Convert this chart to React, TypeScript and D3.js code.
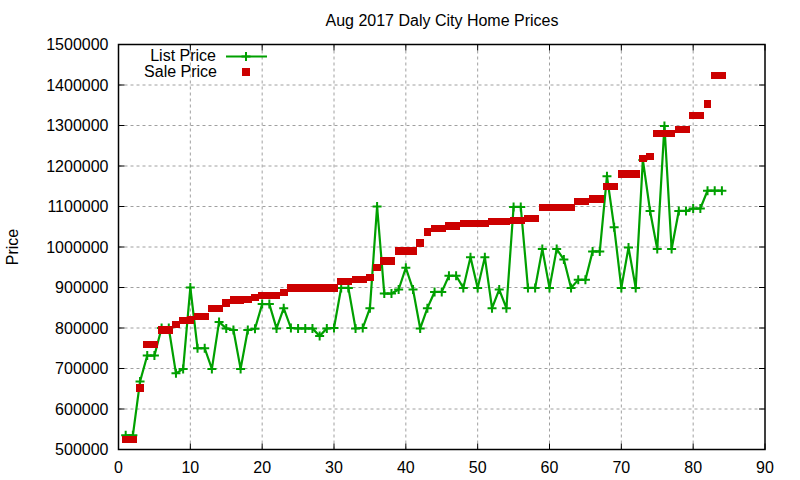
import React, { useEffect, useRef } from 'react';
import * as d3 from 'd3';

// x positions (listing index)
const listIndex = d3.range(1, 85);

const listPrices = [
  535000, 535000, 668000, 732000, 732000, 800000, 800000, 688000, 699000, 900000,
  750000, 750000, 699000, 815000, 799000, 795000, 699000, 795000, 798000, 859000,
  859000, 799000, 849000, 800000, 799000, 799000, 799000, 780000, 799000, 800000,
  899000, 899000, 799000, 800000, 849000, 1100000, 885000, 885000, 895000, 949000,
  895000, 799000, 849000, 889000, 889000, 929000, 929000, 899000, 975000, 899000,
  975000, 849000, 895000, 849000, 1099000, 1099000, 899000, 899000, 995000, 899000,
  995000, 969000, 899000, 919000, 919000, 989000, 989000, 1175000, 1049000, 899000,
  999000, 899000, 1215000, 1089000, 995000, 1299000, 995000, 1089000, 1089000, 1095000,
  1095000, 1139000, 1139000, 1139000,
];

const salePrices = [
  525000, 525000, 652000, 759000, 759000, 795000, 795000, 808000, 818000, 820000,
  828000, 828000, 848000, 848000, 862000, 869000, 869000, 870000, 875000, 880000,
  880000, 880000, 887000, 899000, 899000, 899000, 899000, 899000, 899000, 899000,
  915000, 915000, 920000, 920000, 925000, 950000, 965000, 965000, 990000, 990000,
  990000, 1010000, 1037000, 1045000, 1045000, 1052000, 1052000, 1058000, 1058000, 1058000,
  1058000, 1063000, 1063000, 1063000, 1066000, 1066000, 1070000, 1070000, 1098000, 1098000,
  1098000, 1098000, 1098000, 1113000, 1113000, 1119000, 1119000, 1150000, 1150000, 1180000,
  1180000, 1180000, 1219000, 1224000, 1280000, 1280000, 1280000, 1290000, 1290000, 1324000,
  1324000, 1353000, 1424000, 1424000,
];

const xTicks = d3.range(0, 100, 10);
const yTicks = d3.range(500000, 1600000, 100000);

const title = 'Aug 2017 Daly City Home Prices';
const yLabel = 'Price';
const legendNames = ['List Price', 'Sale Price'];

const GREEN = '#00a000';
const RED = '#cc0000';
const FONT = '"Liberation Sans", Arial, sans-serif';

export default function App() {
  const svgRef = useRef<SVGSVGElement>(null);

  useEffect(() => {
    const svg = d3.select(svgRef.current);
    svg.selectAll('*').remove();

    const width = 800;
    const height = 480;
    const margin = { top: 44.5, right: 35, bottom: 30.5, left: 118.5 };
    const innerWidth = width - margin.left - margin.right;
    const innerHeight = height - margin.top - margin.bottom;

    const x = d3.scaleLinear().domain([0, 90]).range([0, innerWidth]);
    const y = d3.scaleLinear().domain([500000, 1500000]).range([innerHeight, 0]);

    svg.append('rect')
      .attr('width', width)
      .attr('height', height)
      .attr('fill', '#fff');

    const g = svg.append('g')
      .attr('transform', `translate(${margin.left},${margin.top})`);

    // grid
    g.append('g')
      .selectAll('line')
      .data(xTicks.slice(1, -1))
      .enter().append('line')
      .attr('x1', d => x(d)).attr('x2', d => x(d))
      .attr('y1', 0).attr('y2', innerHeight)
      .attr('stroke', '#a0a0a0')
      .attr('stroke-width', 1)
      .attr('stroke-dasharray', '3,3');

    g.append('g')
      .selectAll('line')
      .data(yTicks.slice(1, -1))
      .enter().append('line')
      .attr('x1', 0).attr('x2', innerWidth)
      .attr('y1', d => y(d)).attr('y2', d => y(d))
      .attr('stroke', '#a0a0a0')
      .attr('stroke-width', 1)
      .attr('stroke-dasharray', '3,3');

    // ticks on all four sides, pointing inward
    const tickLen = 6;
    const ticks = g.append('g').attr('stroke', '#000').attr('stroke-width', 1);
    xTicks.forEach(t => {
      ticks.append('line').attr('x1', x(t)).attr('x2', x(t))
        .attr('y1', innerHeight).attr('y2', innerHeight - tickLen);
      ticks.append('line').attr('x1', x(t)).attr('x2', x(t))
        .attr('y1', 0).attr('y2', tickLen);
    });
    yTicks.forEach(t => {
      ticks.append('line').attr('x1', 0).attr('x2', tickLen)
        .attr('y1', y(t)).attr('y2', y(t));
      ticks.append('line').attr('x1', innerWidth).attr('x2', innerWidth - tickLen)
        .attr('y1', y(t)).attr('y2', y(t));
    });

    // tick labels
    g.append('g')
      .selectAll('text')
      .data(xTicks)
      .enter().append('text')
      .attr('x', d => x(d))
      .attr('y', innerHeight + 23)
      .attr('text-anchor', 'middle')
      .attr('font-family', FONT)
      .attr('font-size', 16)
      .text(d => d);

    g.append('g')
      .selectAll('text')
      .data(yTicks)
      .enter().append('text')
      .attr('x', -10)
      .attr('y', d => y(d))
      .attr('dy', '0.36em')
      .attr('text-anchor', 'end')
      .attr('font-family', FONT)
      .attr('font-size', 16)
      .text(d => d);

    // list price line
    const line = d3.line<number>()
      .x((d, i) => x(listIndex[i]))
      .y(d => y(d));

    g.append('path')
      .datum(listPrices)
      .attr('d', line)
      .attr('fill', 'none')
      .attr('stroke', GREEN)
      .attr('stroke-width', 2.2);

    const plus = (sel: d3.Selection<SVGGElement, unknown, null, undefined>, cx: number, cy: number) => {
      sel.append('path')
        .attr('d', `M${cx - 4.5},${cy}H${cx + 4.5}M${cx},${cy - 4.5}V${cy + 4.5}`)
        .attr('stroke', GREEN)
        .attr('stroke-width', 2);
    };

    const markers = g.append('g');
    listPrices.forEach((v, i) => plus(markers, x(listIndex[i]), y(v)));

    // sale price squares (overlap so equal neighbours merge into a bar)
    g.append('g')
      .attr('shape-rendering', 'crispEdges')
      .selectAll('rect')
      .data(salePrices)
      .enter().append('rect')
      .attr('x', (d, i) => x(listIndex[i]) - 3.8)
      .attr('y', d => y(d) - 3.7)
      .attr('width', 7.6)
      .attr('height', 7.4)
      .attr('fill', RED);

    // frame
    g.append('rect')
      .attr('width', innerWidth)
      .attr('height', innerHeight)
      .attr('fill', 'none')
      .attr('stroke', '#000')
      .attr('stroke-width', 1.5);

    // title and axis label
    svg.append('text')
      .attr('x', 442)
      .attr('y', 26)
      .attr('text-anchor', 'middle')
      .attr('font-family', FONT)
      .attr('font-size', 16)
      .text(title);

    svg.append('text')
      .attr('transform', `translate(18,${margin.top + innerHeight / 2}) rotate(-90)`)
      .attr('text-anchor', 'middle')
      .attr('font-family', FONT)
      .attr('font-size', 16)
      .text(yLabel);

    // legend
    const legend = svg.append('g');
    legend.append('text')
      .attr('x', 216).attr('y', 61)
      .attr('text-anchor', 'end')
      .attr('font-family', FONT)
      .attr('font-size', 16)
      .text(legendNames[0]);
    legend.append('line')
      .attr('x1', 226).attr('x2', 267)
      .attr('y1', 56.5).attr('y2', 56.5)
      .attr('stroke', GREEN)
      .attr('stroke-width', 2);
    const lp = legend.append('g');
    plus(lp, 246, 56.5);

    legend.append('text')
      .attr('x', 217).attr('y', 77)
      .attr('text-anchor', 'end')
      .attr('font-family', FONT)
      .attr('font-size', 16)
      .text(legendNames[1]);
    legend.append('rect')
      .attr('shape-rendering', 'crispEdges')
      .attr('x', 242).attr('y', 68)
      .attr('width', 8).attr('height', 8)
      .attr('fill', RED);
  }, []);

  return (
    <div style={{ position: 'fixed', left: 0, top: 0 }}>
      <svg ref={svgRef} width={800} height={480} style={{ display: 'block' }}></svg>
    </div>
  );
}
